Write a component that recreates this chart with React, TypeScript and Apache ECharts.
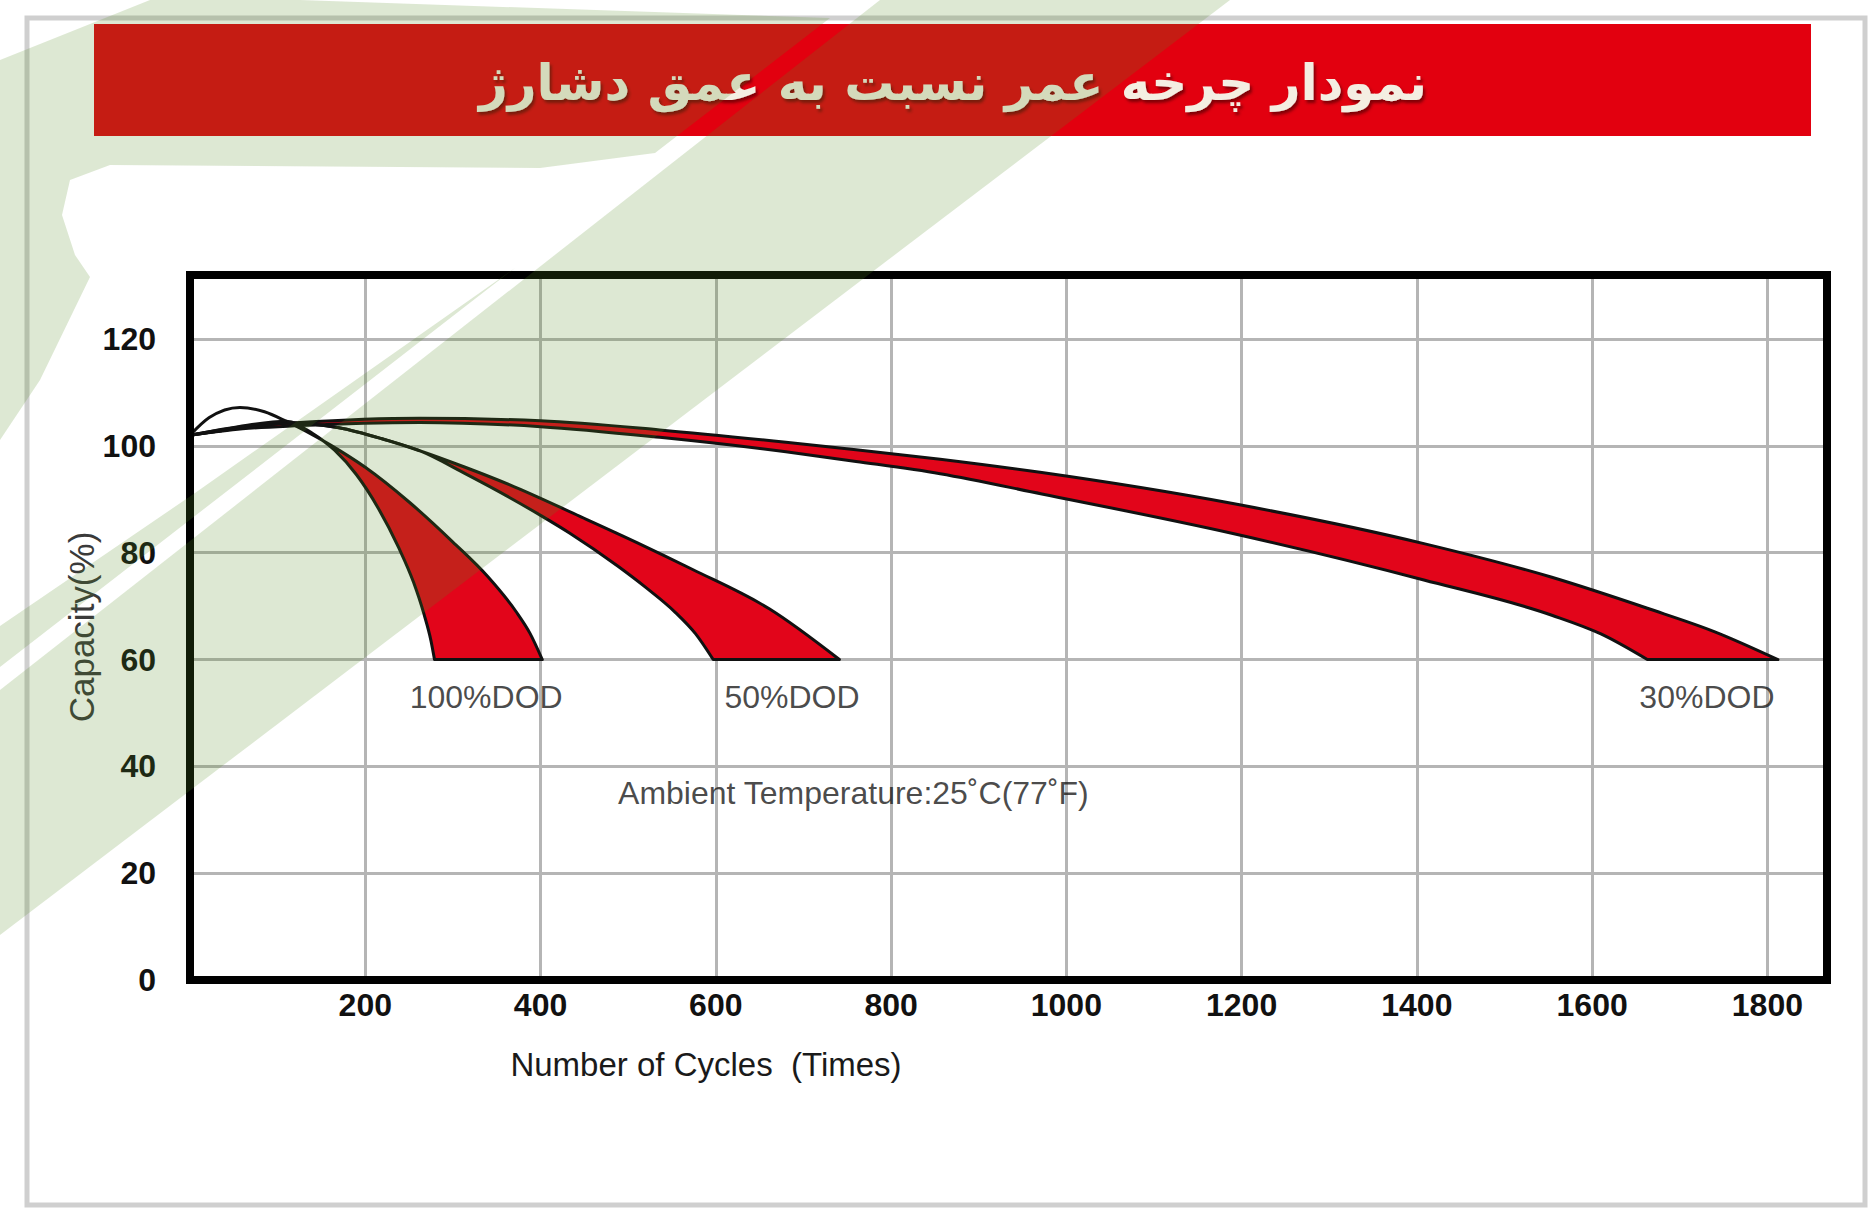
import React, { useEffect, useRef } from 'react';
import * as echarts from 'echarts';

// ---------- texts ----------
const TITLE = 'نمودار چرخه عمر نسبت به عمق دشارژ';
const X_NAME = 'Number of Cycles  (Times)';
const Y_NAME = 'Capacity(%)';
const AMBIENT = 'Ambient Temperature:25˚C(77˚F)';

// ---------- axes ----------
const X_MIN = 0;
const X_MAX = 1868;
const X_INTERVAL = 200;
const Y_MIN = 0;
const Y_MAX = 132;
const Y_INTERVAL = 20;

// ---------- bands (cycles, capacity %) ----------
const DOD_NAMES = ['30%DOD', '50%DOD', '100%DOD'];

const UPPER_30 = [[0, 102], [60, 103.6], [125, 104.4], [262, 105.2], [400, 104.7], [536, 103], [680, 100.7], [760, 99.3], [856, 97.5], [972, 95.0], [1190, 89.2], [1408, 81.7], [1554, 75.4], [1663, 69.6], [1740, 65.2], [1812, 60]];
const LOWER_30 = [[0, 102], [60, 103.2], [125, 103.8], [262, 104.4], [400, 103.6], [536, 101.6], [680, 98.9], [760, 97.1], [856, 94.8], [972, 91.0], [1190, 83.6], [1408, 74.9], [1554, 68.3], [1610, 64.8], [1663, 60]];

const UPPER_50 = [[0, 102], [60, 103.4], [115, 104.3], [170, 103.4], [220, 101.3], [262, 99.1], [314, 96.0], [365, 92.7], [445, 86.8], [510, 81.9], [573, 76.9], [661, 69.5], [741, 60]];
const LOWER_50 = [[0, 102], [60, 103.4], [115, 104.3], [170, 103.4], [220, 101.3], [262, 99.1], [314, 94.8], [365, 90.3], [401, 86.9], [433, 83.7], [488, 77.5], [520, 73.5], [554, 68.8], [577, 64.8], [597, 60]];

const UPPER_100 = [[0, 102], [22, 105.3], [57, 107.2], [85, 106.4], [110, 104.6], [160, 100.2], [200, 96], [250, 89.5], [300, 82], [340, 75.5], [372, 69], [388, 64.9], [402, 60]];
const LOWER_100 = [[0, 102], [55, 103.6], [110, 104.6], [140, 102.3], [165, 99.2], [190, 94.6], [215, 88.3], [238, 81], [255, 74.5], [267, 68.5], [275, 63.5], [279, 60]];

const UPPERS = [UPPER_30, UPPER_50, UPPER_100];
const LOWERS = [LOWER_30, LOWER_50, LOWER_100];
// index of the point where the two edges of each band part
const APEX_UPPER = [0, 5, 4];
const APEX_LOWER = [0, 5, 2];

// annotation anchors (cycles, capacity %)
const LABEL_X = [1731, 687, 338, 757];
const LABEL_Y = [53, 53, 53, 35];
const LABEL_TEXT = ['30%DOD', '50%DOD', '100%DOD', AMBIENT];

// ---------- layout / style ----------
const W = 1872;
const H = 1209;
const GRID = { left: 190, top: 275, right: 45, bottom: 229 };
const RED = '#e2051a';
const BANNER_RED = '#e2000f';
const GRID_GRAY = '#b5b5b5';
const WM = 'rgba(85,140,35,0.2)';
const FONT = '"Liberation Sans", Arial, sans-serif';

// monotone cubic (in x) bezier segments through pixel points
function segs(P: number[][]) {
  const n = P.length;
  const s: number[] = [];
  for (let i = 0; i < n - 1; i++) {
    const h = P[i + 1][0] - P[i][0];
    s.push(h ? (P[i + 1][1] - P[i][1]) / h : 0);
  }
  const t: number[] = new Array(n).fill(0);
  for (let i = 1; i < n - 1; i++) {
    const h0 = P[i][0] - P[i - 1][0];
    const h1 = P[i + 1][0] - P[i][0];
    const s0 = s[i - 1];
    const s1 = s[i];
    const p = (s0 * h1 + s1 * h0) / (h0 + h1);
    t[i] = (Math.sign(s0) + Math.sign(s1)) * Math.min(Math.abs(s0), Math.abs(s1), 0.5 * Math.abs(p)) || 0;
  }
  if (n > 1) {
    t[0] = (3 * s[0] - t[1]) / 2;
    t[n - 1] = (3 * s[n - 2] - t[n - 2]) / 2;
  }
  const out: number[][][] = [];
  for (let i = 0; i < n - 1; i++) {
    const p1 = P[i];
    const p2 = P[i + 1];
    const h = p2[0] - p1[0];
    const c1 = [p1[0] + h / 3, p1[1] + (t[i] * h) / 3];
    const c2 = [p2[0] - h / 3, p2[1] - (t[i + 1] * h) / 3];
    out.push([p1, c1, c2, p2]);
  }
  return out;
}
const f = (p: number[]) => `${p[0].toFixed(2)} ${p[1].toFixed(2)}`;

export default function App() {
  const ref = useRef<HTMLDivElement>(null);
  useEffect(() => {
    const chart = echarts.init(ref.current!, null, { renderer: 'svg' });
    const gw = W - GRID.left - GRID.right;
    const gh = H - GRID.top - GRID.bottom;

    const renderBand = (params: any, api: any) => {
      const i = params.dataIndex;
      const U = UPPERS[i].map((p) => api.coord(p));
      const L = LOWERS[i].map((p) => api.coord(p));
      const su = segs(U);
      const sl = segs(L);
      const au = APEX_UPPER[i];
      const al = APEX_LOWER[i];
      let d = `M${f(U[au])}`;
      for (let k = au; k < su.length; k++) d += ` C${f(su[k][1])} ${f(su[k][2])} ${f(su[k][3])}`;
      d += ` L${f(L[L.length - 1])}`;
      for (let k = sl.length - 1; k >= al; k--) d += ` C${f(sl[k][2])} ${f(sl[k][1])} ${f(sl[k][0])}`;
      d += ' Z';
      const children: any[] = [
        { type: 'path', shape: { pathData: d }, style: { fill: RED, stroke: '#111', lineWidth: 3, lineJoin: 'round' } },
      ];
      const pre = (sg: number[][][], n: number) => {
        if (n <= 0) return;
        let p = `M${f(sg[0][0])}`;
        for (let k = 0; k < n; k++) p += ` C${f(sg[k][1])} ${f(sg[k][2])} ${f(sg[k][3])}`;
        children.push({ type: 'path', shape: { pathData: p }, style: { fill: 'none', stroke: '#111', lineWidth: 3 } });
      };
      pre(su, au);
      pre(sl, al);
      return { type: 'group', children };
    };

    const option: any = {
      animation: false,
      backgroundColor: '#ffffff',
      grid: { left: GRID.left, top: GRID.top, right: GRID.right, bottom: GRID.bottom, containLabel: false },
      xAxis: {
        type: 'value',
        min: X_MIN,
        max: X_MAX,
        interval: X_INTERVAL,
        axisLine: { show: false },
        axisTick: { show: false },
        axisLabel: {
          margin: 9,
          fontSize: 32,
          fontWeight: 'bold',
          fontFamily: FONT,
          color: '#111',
          showMinLabel: false,
          showMaxLabel: false,
          formatter: (v: number) => (v > 0 && v % X_INTERVAL === 0 ? String(v) : ''),
        },
        splitLine: { show: true, showMinLine: false, showMaxLine: false, lineStyle: { color: GRID_GRAY, width: 3 } },
      },
      yAxis: {
        type: 'value',
        min: Y_MIN,
        max: Y_MAX,
        interval: Y_INTERVAL,
        axisLine: { show: false },
        axisTick: { show: false },
        axisLabel: {
          margin: 34,
          fontSize: 32,
          fontWeight: 'bold',
          fontFamily: FONT,
          color: '#111',
          showMaxLabel: false,
          formatter: (v: number) => (v % Y_INTERVAL === 0 ? String(v) : ''),
        },
        splitLine: { show: true, showMinLine: false, showMaxLine: false, lineStyle: { color: GRID_GRAY, width: 3 } },
      },
      series: [
        {
          type: 'custom',
          name: 'bands',
          data: DOD_NAMES.map((n, i) => ({ name: n, value: UPPERS[i][0] })),
          renderItem: renderBand,
          silent: true,
          z: 3,
        },
        {
          type: 'scatter',
          name: 'labels',
          data: LABEL_TEXT.map((t, i) => ({ name: t, value: [LABEL_X[i], LABEL_Y[i]] })),
          symbolSize: 1,
          itemStyle: { color: 'rgba(0,0,0,0)' },
          label: { show: true, position: 'inside', formatter: '{b}', fontSize: 32, color: '#1a1a1a', fontFamily: FONT },
          silent: true,
          z: 4,
        },
      ],
      graphic: [
        { type: 'rect', z: 0, shape: { x: 27, y: 18, width: 1838, height: 1187 }, style: { fill: 'none', stroke: '#cfcfcf', lineWidth: 5 } },
        { type: 'rect', z: 1, shape: { x: 94, y: 24, width: 1717, height: 112 }, style: { fill: BANNER_RED } },
        {
          type: 'text', z: 2, x: 953, y: 83,
          style: {
            text: TITLE, fill: '#f4eee2', font: 'bold 50px "DejaVu Sans"',
            textAlign: 'center', textVerticalAlign: 'middle', align: 'center', verticalAlign: 'middle',
            textShadowColor: 'rgba(60,0,0,0.6)', textShadowOffsetX: 2, textShadowOffsetY: 3, textShadowBlur: 3,
          },
        },
        { type: 'rect', z: 10, shape: { x: GRID.left, y: GRID.top, width: gw, height: gh }, style: { fill: 'none', stroke: '#000', lineWidth: 8 } },
        {
          type: 'text', z: 10, x: 706, y: 1064,
          style: { text: X_NAME, fill: '#1a1a1a', font: `33px ${FONT}`, textAlign: 'center', textVerticalAlign: 'middle', align: 'center', verticalAlign: 'middle' },
        },
        {
          type: 'text', z: 10, x: 81, y: 627, rotation: Math.PI / 2,
          style: { text: Y_NAME, fill: '#3a3a3a', font: `35px ${FONT}`, textAlign: 'center', textVerticalAlign: 'middle', align: 'center', verticalAlign: 'middle' },
        },
        // watermark (light green logo overlay)
        { type: 'polygon', z: 100, silent: true, shape: { points: [[880, 0], [1230, 0], [0, 935], [0, 690]] }, style: { fill: WM } },
        {
          type: 'polygon', z: 100, silent: true,
          shape: { points: [[0, 60], [150, 0], [300, 0], [830, 18], [677, 136], [655, 153], [540, 168], [110, 165], [70, 180], [62, 215], [75, 255], [90, 277], [40, 380], [0, 440]] },
          style: { fill: WM },
        },
        { type: 'polygon', z: 100, silent: true, shape: { points: [[515, 268], [0, 667], [0, 626], [195, 493]] }, style: { fill: WM } },
      ],
    };
    chart.setOption(option);
    return () => chart.dispose();
  }, []);
  return <div ref={ref} style={{ position: 'fixed', left: 0, top: 0, width: W, height: H, background: '#fff' }} />;
}
